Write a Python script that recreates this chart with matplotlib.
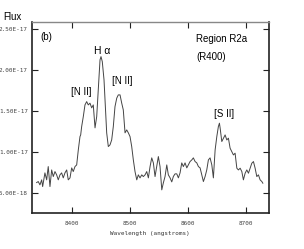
import numpy as np
import matplotlib
matplotlib.use("Agg")
import matplotlib.pyplot as plt
from matplotlib.ticker import FuncFormatter

# spectrum (flux in 1e-17 units)
wavelength = [8339.1, 8341.9, 8344.8, 8347.8, 8349.5, 8353.4, 8356.4, 8359.1, 8362.1, 8365.0,
              8367.8, 8370.7, 8373.6, 8376.4, 8379.3, 8382.2, 8385.0, 8387.9, 8390.9, 8393.6,
              8396.6, 8399.5, 8402.2, 8405.2, 8408.1, 8410.9, 8413.8, 8415.0, 8416.7, 8419.5,
              8422.4, 8425.3, 8428.1, 8431.0, 8434.0, 8436.7, 8439.7, 8442.6, 8445.3, 8448.3,
              8450.0, 8452.2, 8455.2, 8456.9, 8459.8, 8462.6, 8465.5, 8468.4, 8471.2, 8474.1,
              8477.1, 8479.8, 8482.8, 8485.7, 8488.4, 8491.4, 8494.3, 8497.1, 8500.0, 8502.9,
              8505.7, 8508.6, 8511.6, 8514.3, 8517.2, 8520.2, 8522.9, 8525.9, 8528.8, 8531.6,
              8534.5, 8537.4, 8540.2, 8543.1, 8546.0, 8548.8, 8551.7, 8554.7, 8557.4, 8560.3,
              8563.3, 8566.0, 8569.0, 8571.9, 8574.7, 8577.6, 8580.5, 8583.3, 8586.2, 8589.1,
              8591.9, 8594.8, 8597.8, 8600.5, 8603.4, 8606.4, 8609.1, 8612.1, 8615.0, 8617.8,
              8620.7, 8623.6, 8626.4, 8629.3, 8632.2, 8635.0, 8637.9, 8640.9, 8643.6, 8646.6,
              8649.5, 8652.2, 8654.0, 8655.2, 8658.1, 8660.9, 8663.8, 8666.7, 8669.5, 8672.4,
              8675.3, 8678.1, 8681.0, 8684.0, 8686.7, 8689.7, 8692.6, 8695.3, 8698.3, 8701.2,
              8704.0, 8706.9, 8709.8, 8712.6, 8715.5, 8718.4, 8721.2, 8724.1, 8727.1, 8728.8]
flux = [0.626, 0.638, 0.598, 0.659, 0.577, 0.744, 0.659, 0.821, 0.577, 0.780,
        0.699, 0.760, 0.720, 0.659, 0.720, 0.744, 0.683, 0.744, 0.780, 0.659,
        0.683, 0.805, 0.760, 0.821, 0.841, 1.024, 1.187, 1.207, 1.309, 1.430,
        1.573, 1.613, 1.573, 1.594, 1.537, 1.573, 1.293, 1.430, 1.756, 2.122,
        2.162, 2.101, 1.878, 1.634, 1.232, 1.065, 1.085, 1.146, 1.309, 1.552,
        1.655, 1.695, 1.695, 1.594, 1.512, 1.232, 1.268, 1.232, 1.187, 1.065,
        0.902, 0.760, 0.659, 0.720, 0.683, 0.720, 0.699, 0.720, 0.760, 0.683,
        0.821, 0.927, 0.866, 0.699, 0.821, 0.943, 0.821, 0.537, 0.622, 0.699,
        0.841, 0.720, 0.683, 0.634, 0.701, 0.732, 0.732, 0.683, 0.744, 0.866,
        0.821, 0.866, 0.805, 0.841, 0.882, 0.902, 0.927, 0.882, 0.866, 0.821,
        0.805, 0.720, 0.638, 0.699, 0.780, 0.902, 0.927, 0.841, 0.683, 1.024,
        1.187, 1.309, 1.350, 1.293, 1.126, 1.167, 1.207, 1.146, 1.167, 1.045,
        1.004, 0.963, 0.984, 0.801, 0.780, 0.801, 0.760, 0.659, 0.740, 0.780,
        0.740, 0.801, 0.862, 0.882, 0.801, 0.699, 0.720, 0.659, 0.638, 0.618]

xticks = [8400, 8500, 8600, 8700]
yticks = [0.5e-17, 1.0e-17, 1.5e-17, 2.0e-17, 2.5e-17]

flux = np.array(flux) * 1e-17

fig = plt.figure(figsize=(3.04, 2.49), dpi=100)
ax = fig.add_axes([0.105, 0.145, 0.781, 0.767])

ax.plot(wavelength, flux, color="#444444", lw=0.7)

ax.set_xlim(8331, 8740)
ax.set_ylim(0.256e-17, 2.585e-17)
ax.set_xticks(xticks)
ax.set_yticks(yticks)
ax.yaxis.set_major_formatter(FuncFormatter(lambda v, p: f"{v:.2E}"))
ax.xaxis.set_major_formatter(FuncFormatter(lambda v, p: f"{v:.0f}"))
ax.tick_params(direction="in", length=4, width=0.8, top=True, right=True,
               labelsize=4.3, pad=3, colors="#222222")
ax.tick_params(axis="x", pad=6)
for lab in ax.get_xticklabels() + ax.get_yticklabels():
    lab.set_family("DejaVu Sans Mono")
    lab.set_color("#444444")

for s in ["left", "right", "bottom"]:
    ax.spines[s].set_linewidth(1.2)
    ax.spines[s].set_color("#222222")
ax.spines["top"].set_linewidth(1.0)
ax.spines["top"].set_color("#888888")

font = "Liberation Sans"
fig.text(3 / 304, 1 - 17 / 249, "Flux", family=font, fontsize=7, va="center", ha="left")
fig.text(150 / 304, 1 - 233 / 249, "Wavelength (angstroms)", family="DejaVu Sans Mono",
         fontsize=4.3, ha="center", va="center", color="#333333")

def lab(x, y, s, ha="center", size=7):
    fig.text(x / 304, 1 - y / 249, s, family=font, fontsize=size, ha=ha, va="center")

lab(46, 37.5, "(b)")
lab(102, 51, "H α", size=7.5)
lab(81, 92, "[N II]")
lab(122, 80.5, "[N II]")
lab(196, 39, "Region R2a", ha="left")
lab(196, 57.5, "(R400)", ha="left")
lab(224, 114, "[S II]")

fig.savefig("out.png", dpi=100)
